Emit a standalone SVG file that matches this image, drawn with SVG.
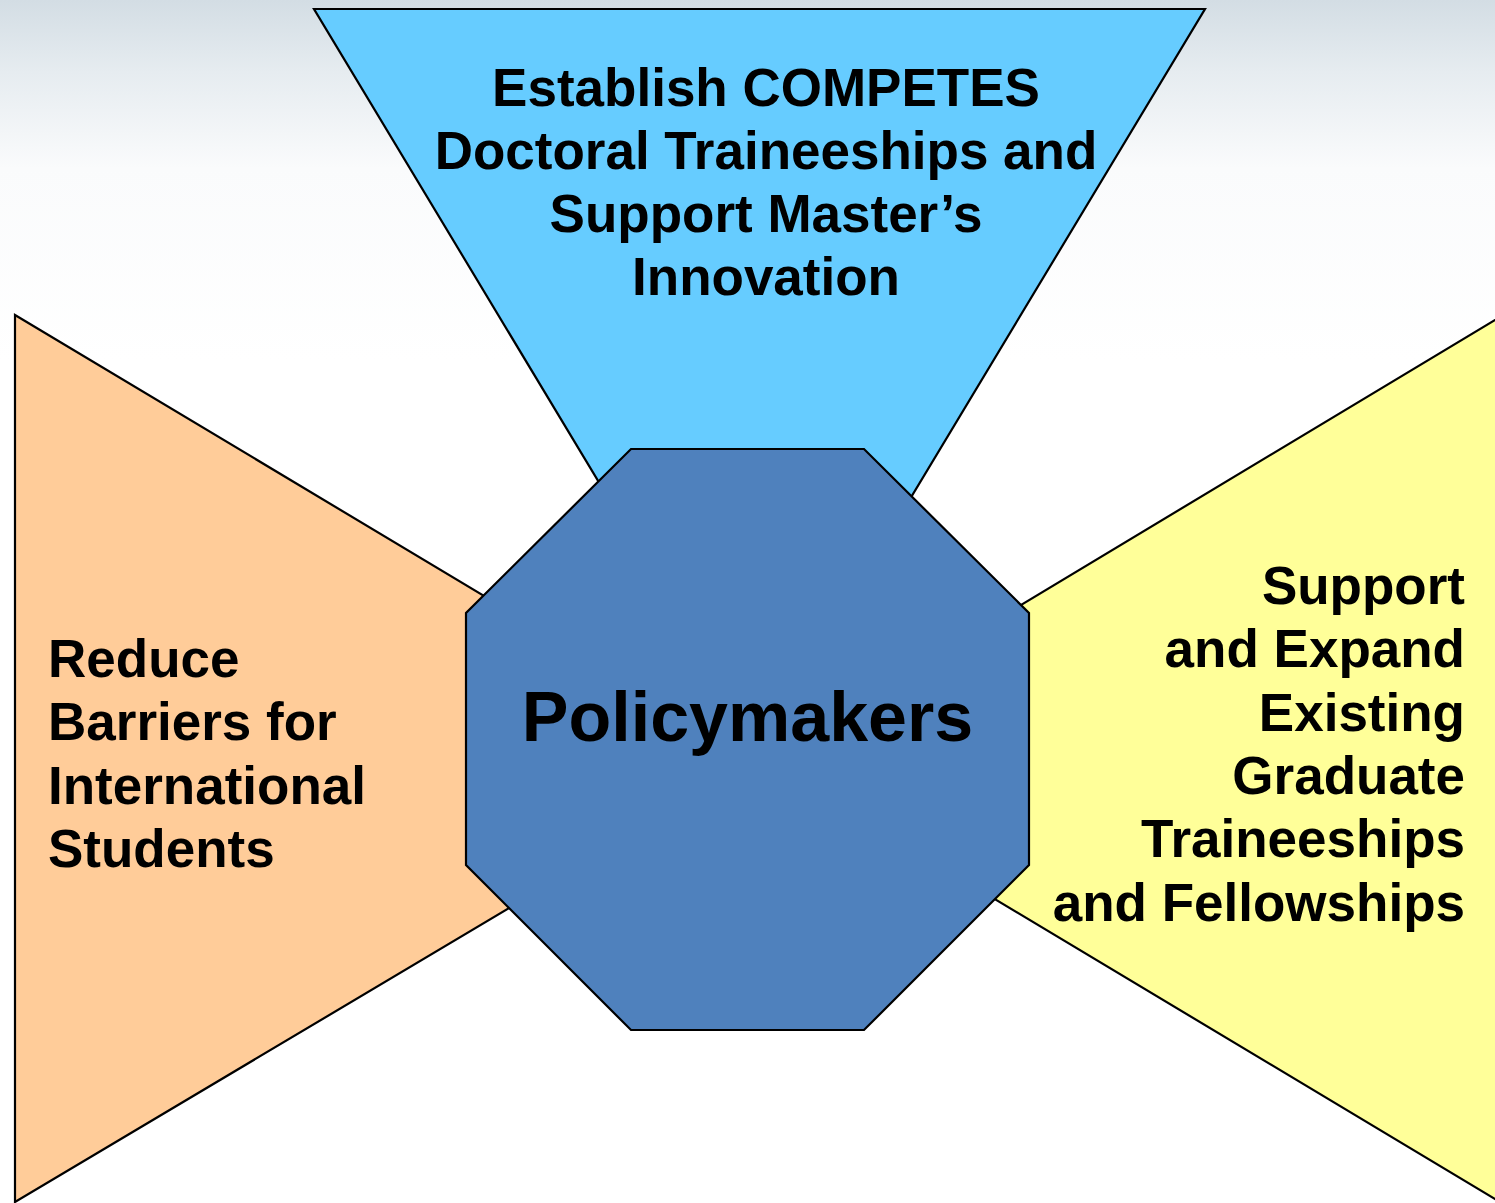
<svg xmlns="http://www.w3.org/2000/svg" width="1495" height="1203" viewBox="0 0 1495 1203">
  <defs>
    <linearGradient id="bg" x1="0" y1="0" x2="0" y2="1">
      <stop offset="0" stop-color="#D3DDE4"/>
      <stop offset="0.06" stop-color="#E6ECF0"/>
      <stop offset="0.14" stop-color="#FAFBFC"/>
      <stop offset="0.3" stop-color="#FFFFFF"/>
      <stop offset="1" stop-color="#FFFFFF"/>
    </linearGradient>
  </defs>
  <style>
    .shape { stroke: #000000; stroke-width: 2.2; stroke-linejoin: miter; }
    .label { font-family: "Liberation Sans", Arial, sans-serif; font-weight: bold; font-size: 53px; fill: #000000; }
    .mid { text-anchor: middle; }
    .end { text-anchor: end; }
    .hub { font-family: "Liberation Sans", Arial, sans-serif; font-weight: bold; font-size: 70px; fill: #000000; text-anchor: middle; }
  </style>

  <rect x="0" y="0" width="1495" height="1203" fill="url(#bg)"/>

  <g id="connectors"></g>

  <!-- top wedge -->
  <g id="node-competes">
    <polygon class="shape" fill="#66CCFF" points="314,9 1205,9 759.5,749"/>
    <text class="label mid" x="766" y="106">Establish COMPETES</text>
    <text class="label mid" x="766" y="169">Doctoral Traineeships and</text>
    <text class="label mid" x="766" y="232">Support Master’s</text>
    <text class="label mid" x="766" y="295">Innovation</text>
  </g>

  <!-- left wedge -->
  <g id="node-barriers">
    <polygon class="shape" fill="#FFCC99" points="15,315 758,760 15,1202"/>
    <text class="label" x="48" y="677">Reduce</text>
    <text class="label" x="48" y="740">Barriers for</text>
    <text class="label" x="48" y="804">International</text>
    <text class="label" x="48" y="867">Students</text>
  </g>

  <!-- right wedge -->
  <g id="node-traineeships">
    <polygon class="shape" fill="#FFFF99" points="1500,317 763,760 1500,1202"/>
    <text class="label end" x="1465" y="604">Support</text>
    <text class="label end" x="1465" y="667">and Expand</text>
    <text class="label end" x="1465" y="731">Existing</text>
    <text class="label end" x="1465" y="794">Graduate</text>
    <text class="label end" x="1465" y="857">Traineeships</text>
    <text class="label end" x="1465" y="921">and Fellowships</text>
  </g>

  <!-- central octagon -->
  <g id="node-policymakers">
    <polygon class="shape" fill="#4F81BD" points="631,449 864,449 1029,613 1029,865 864,1030 631,1030 466,865 466,613"/>
    <text class="hub" x="747.5" y="741">Policymakers</text>
  </g>
</svg>
